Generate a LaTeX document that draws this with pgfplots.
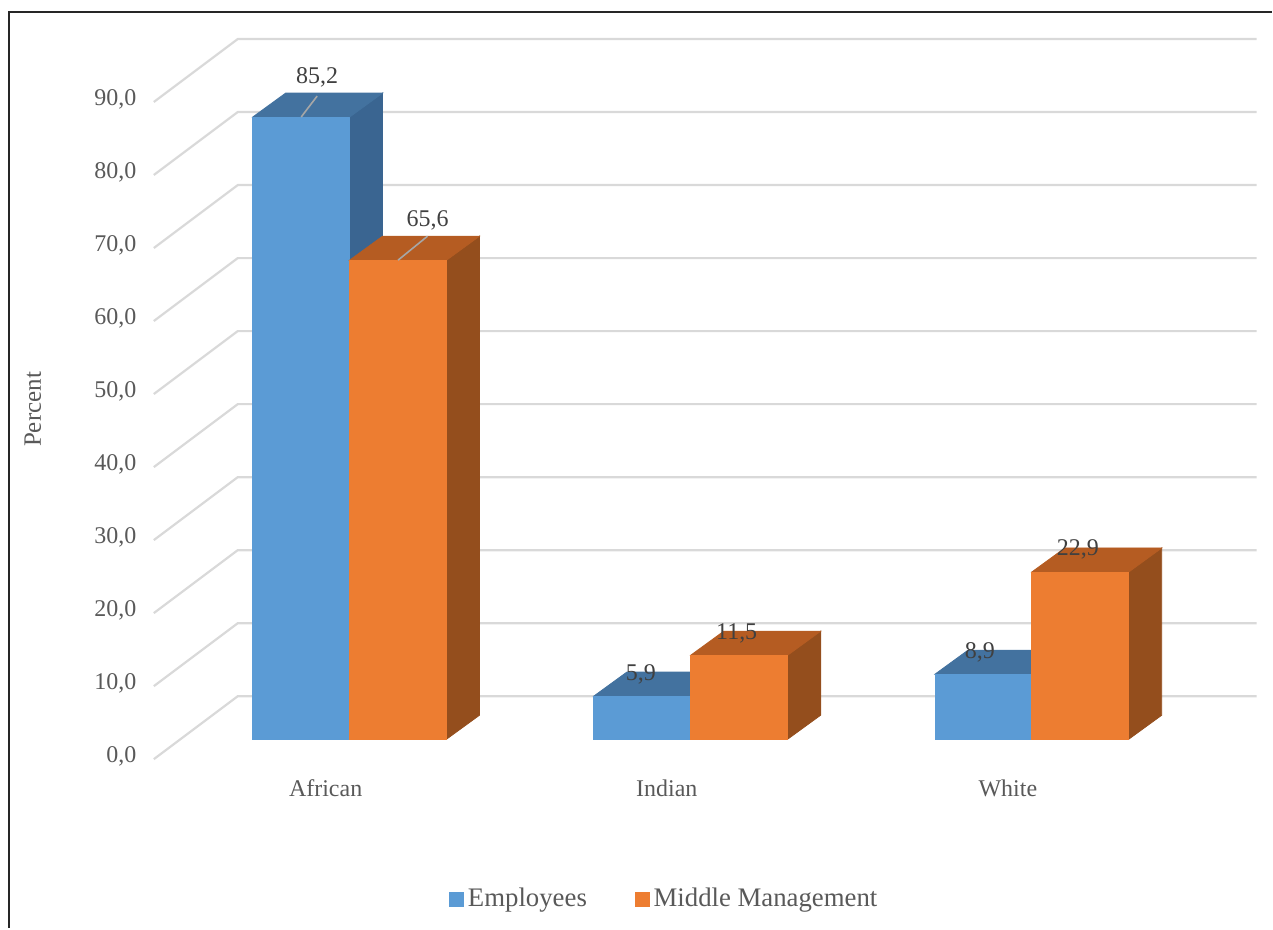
\documentclass[border=0pt]{standalone}
\usepackage{fontspec}
\setmainfont{Liberation Serif}
\usepackage{pgfplots}
\usepackage{pgfplotstable}
\pgfplotsset{compat=1.18}
\definecolor{bfront}{HTML}{5B9BD5}
\definecolor{btop}{HTML}{43729F}
\definecolor{bside}{HTML}{3A6591}
\definecolor{ofront}{HTML}{ED7D31}
\definecolor{otop}{HTML}{B55C22}
\definecolor{oside}{HTML}{944E1D}
\definecolor{gridc}{HTML}{D9D9D9}
\definecolor{tickc}{HTML}{595959}
\definecolor{labc}{HTML}{404040}
\definecolor{leadc}{HTML}{A6A6A6}
\definecolor{framec}{HTML}{262626}

\pgfplotstableread{
x y ldx ldy lead ltx lty
0 85.2 8 20 1 8 10.5
1 5.9 -0.75 11 0 0 0
2 8.9 -1.75 11 0 0 0
}\emp
\pgfplotstableread{
x y ldx ldy lead ltx lty
0 65.6 14.75 20 1 14.75 12
1 11.5 -1.25 11 0 0 0
2 22.9 -1.25 11.5 0 0 0
}\midm

\pgfplotsset{
  bar3d/.style n args={5}{
    scatter, only marks, mark=*, mark size=0pt,
    mark options={draw=none,fill=none},
    visualization depends on={value \coordindex \as \bidx},
    scatter/@pre marker code/.code={%
      \pgfplotstablegetelem{\bidx}{y}\of#5\let\bval\pgfplotsretval
      \pgfplotstablegetelem{\bidx}{ldx}\of#5\let\bldx\pgfplotsretval
      \pgfplotstablegetelem{\bidx}{ldy}\of#5\let\bldy\pgfplotsretval
      \pgfplotstablegetelem{\bidx}{lead}\of#5\let\blead\pgfplotsretval
      \pgfplotstablegetelem{\bidx}{ltx}\of#5\let\bltx\pgfplotsretval
      \pgfplotstablegetelem{\bidx}{lty}\of#5\let\blty\pgfplotsretval
      \pgfmathsetlengthmacro\bh{\bval*3.655pt}%
      \pgfmathsetlengthmacro\bxl{#1}%
      \pgfmathsetlengthmacro\bxr{#1+48.5pt}%
      \pgfmathsetlengthmacro\bxc{#1+24.25pt}%
      \fill[#4] (\bxr,-\bh) -- ++(16.5pt,12pt) -- ++(0pt,\bh) -- ++(-16.5pt,-12pt) -- cycle;
      \fill[#3] (\bxl,0pt) -- ++(16.5pt,12pt) -- ++(48.5pt,0pt) -- ++(-16.5pt,-12pt) -- cycle;
      \fill[#2] (\bxl,-\bh) rectangle (\bxr,0pt);
      \ifnum\blead=1
        \draw[draw=leadc, line width=0.8pt] (\bxc,0pt) -- ++(\bltx pt,\blty pt);
      \fi
      \node[font=\fontsize{12}{14}\selectfont, text=labc, inner sep=0pt,
            xshift=\bldx pt, yshift=\bldy pt] at (\bxc,0pt)
        {\pgfmathprintnumber[fixed,fixed zerofill,precision=1,use comma,assume math mode=true]{\bval}};
    },
    scatter/@post marker code/.code={},
  }
}

\begin{document}
\begin{tikzpicture}
\begin{axis}[
  x=170.75pt, y=3.655pt,
  xmin=-1.02489, xmax=2.70278,
  ymin=-25.855, ymax=101.231,
  clip=false,
  axis line style={draw=none},
  tick style={draw=none},
  xtick={0,1,2},
  xticklabels={African,Indian,White},
  ytick={0,10,...,90},
  yticklabel={\pgfmathprintnumber[fixed,fixed zerofill,precision=1,use comma,assume math mode=true]{\tick}},
  ticklabel style={font=\fontsize{12}{14}\selectfont, text=tickc},
  xticklabel style={anchor=center, xshift=-12pt, yshift=70pt},
  yticklabel style={anchor=east, xshift=68.5pt, yshift=-8.5pt, inner sep=0pt},
  ylabel={Percent},
  ylabel style={at={(axis description cs:0.0259,0.5587)}, anchor=center,
    font=\fontsize{12.5}{14}\selectfont, text=tickc},
  legend style={draw=none, fill=none, legend columns=2,
    at={(axis description cs:0.5232,0.0312)}, anchor=center,
    font=\fontsize{13.4}{15}\selectfont, text=tickc,
    /tikz/every even column/.append style={column sep=22pt}},
  legend cell align=left,
]
\path (rel axis cs:0,0) rectangle (rel axis cs:1,1);
\pgfplotsinvokeforeach{0,10,...,90}{
  \draw[gridc, line width=1.1pt] (axis cs:-0.57394,{#1-2.736}) -- (axis cs:-0.32796,{#1+5.882}) -- (axis cs:2.65886,{#1+5.882});
}
\addlegendimage{legend image code/.code={\fill[bfront] (-1pt,-3.5pt) rectangle (6pt,3.5pt);}}
\addlegendentry{Employees}
\addlegendimage{legend image code/.code={\fill[ofront] (-1pt,-3.5pt) rectangle (6pt,3.5pt);}}
\addlegendentry{Middle Management}
\addplot[bar3d={-48.5pt}{bfront}{btop}{bside}{\emp}, forget plot] table[x=x,y=y]{\emp};
\addplot[bar3d={0pt}{ofront}{otop}{oside}{\midm}, forget plot] table[x=x,y=y]{\midm};
\draw[framec, line width=1.4pt, line join=miter] (rel axis cs:0.00707,0) -- (rel axis cs:0.00707,0.98708) -- (rel axis cs:1,0.98708);
\end{axis}
\end{tikzpicture}
\end{document}
